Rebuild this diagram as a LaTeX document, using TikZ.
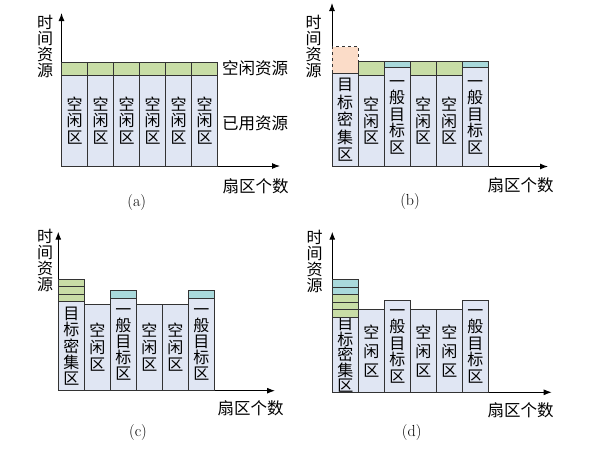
\documentclass[tikz,border=0pt]{standalone}
\usepackage{fontspec}
\setmainfont{Latin Modern Roman}
\newfontfamily\cjk{Noto Sans CJK SC}
\usetikzlibrary{arrows.meta}
\definecolor{linec}{HTML}{333333}
\definecolor{bodyc}{HTML}{E0E6F3}
\definecolor{greenc}{HTML}{C8DDA6}
\definecolor{cyanc}{HTML}{A9D9DB}
\definecolor{peachc}{HTML}{FBDCC8}
\tikzset{
  bar/.style={draw=linec, fill=bodyc, line width=0.9pt, minimum width=26pt,
    inner sep=0pt, outer sep=0pt, anchor=south west, align=center},
  bartext/.style={font=\cjk\fontsize{16}{#1}\selectfont},
  freeband/.style={draw=linec, fill=greenc, line width=0.9pt, minimum width=26pt,
    minimum height=#1, inner sep=0pt, outer sep=0pt, anchor=south west},
  tgtband/.style={draw=linec, fill=cyanc, line width=0.9pt, minimum width=26pt,
    minimum height=#1, inner sep=0pt, outer sep=0pt, anchor=south west},
  reqbox/.style={draw=linec, fill=peachc, dashed, line width=0.8pt, minimum width=26pt,
    minimum height=#1, inner sep=0pt, outer sep=0pt, anchor=south west},
  axisline/.style={line width=1pt, -{Latex[length=8pt,width=6pt]}},
  lab/.style={font=\cjk\fontsize{16.5}{16.5}\selectfont, inner sep=0pt},
  vlab/.style={font=\cjk\fontsize{16}{16}\selectfont, inner sep=0pt, align=center},
  caplab/.style={font=\rmfamily\fontsize{16}{16}\selectfont, inner sep=0pt}
}
\begin{document}
\begin{tikzpicture}[x=1pt,y=-1pt]
\useasboundingbox[fill=white] (0,0) rectangle (600,450);

% ---------------- panel (a) ----------------
\coordinate (oa) at (61.5,166);
\coordinate (atip) at (61.5,13);
\coordinate (aend) at (280,166);
\draw[axisline] (oa) -- (atip);
\draw[axisline] (oa) -- (aend);
\foreach \i in {0,...,5}{
  \node[bar, minimum height=91pt, bartext=16.5] (a\i) at (61.5+26*\i,166) {空\\闲\\区};
  \node[freeband=13pt] (ag\i) at (a\i.north west) {};
}
\node[vlab] (aylab) at (45,46.5) {时\\间\\资\\源};
\node[lab] (afree) at (255,68) {空闲资源};
\node[lab] (aused) at (255,123) {已用资源};
\node[lab] (axlab) at (255.5,186.5) {扇区个数};
\node[caplab] (acap) at (136.7,203) {(a)};

% ---------------- panel (b) ----------------
\coordinate (ob) at (332,166.5);
\coordinate (btip) at (332,3);
\coordinate (bend) at (548,166.5);
\draw[axisline] (ob) -- (btip);
\draw[axisline] (ob) -- (bend);
\node[bar, minimum height=93.5pt, bartext=17.5] (b0) at (332,166.5) {目\\标\\密\\集\\区};
\node[reqbox=26.5pt] (br0) at (b0.north west) {};
\foreach \i in {1,3,4}{
  \node[bar, minimum height=91.5pt, bartext=16.5] (b\i) at (332+26*\i,166.5) {空\\闲\\区};
  \node[freeband=14pt] (bg\i) at (b\i.north west) {};
}
\foreach \i in {2,5}{
  \node[bar, minimum height=99pt, bartext=16.5] (b\i) at (332+26*\i,166.5) {一\\般\\目\\标\\区};
  \node[tgtband=6.5pt] (bt\i) at (b\i.north west) {};
}
\node[vlab] (bylab) at (313.5,46.5) {时\\间\\资\\源};
\node[lab] (bxlab) at (520.5,185) {扇区个数};
\node[caplab] (bcap) at (410,202) {(b)};

% ---------------- panel (c) ----------------
\coordinate (oc) at (58.3,390.7);
\coordinate (ctip) at (58.3,231.7);
\coordinate (cend) at (275,390.7);
\draw[axisline] (oc) -- (ctip);
\draw[axisline] (oc) -- (cend);
\node[bar, minimum height=89pt, bartext=16.2] (c0) at (58.3,390.7) {目\\标\\密\\集\\区};
\node[freeband=7.47pt] (cg1) at (c0.north west) {};
\node[freeband=7.47pt] (cg2) at (cg1.north west) {};
\node[freeband=7.47pt] (cg3) at (cg2.north west) {};
\foreach \i in {1,3,4}{
  \node[bar, minimum height=86.4pt, bartext=17] (c\i) at (58.3+26*\i,390.7) {空\\闲\\区};
}
\foreach \i in {2,5}{
  \node[bar, minimum height=92.4pt, bartext=16] (c\i) at (58.3+26*\i,390.7) {一\\般\\目\\标\\区};
  \node[tgtband=7.6pt] (ct\i) at (c\i.north west) {};
}
\node[vlab] (cylab) at (45,260) {时\\间\\资\\源};
\node[lab] (cxlab) at (250.5,408) {扇区个数};
\node[caplab] (ccap) at (138,433) {(c)};

% ---------------- panel (d) ----------------
\coordinate (od) at (332.3,392.3);
\coordinate (dtip) at (332.3,231.7);
\coordinate (dend) at (551.7,392.3);
\draw[axisline] (od) -- (dtip);
\draw[axisline] (od) -- (dend);
\node[bar, minimum height=71.6pt, bartext=13.8] (d0) at (332.3,392.3) {目\\标\\密\\集\\区};
\node[freeband=7.5pt] (dg1) at (d0.north west) {};
\node[freeband=7.5pt] (dg2) at (dg1.north west) {};
\node[freeband=7.5pt] (dg3) at (dg2.north west) {};
\node[tgtband=7.5pt] (dt1) at (dg3.north west) {};
\node[tgtband=7.5pt] (dt2) at (dt1.north west) {};
\foreach \i in {1,3,4}{
  \node[bar, minimum height=82.6pt, bartext=19] (d\i) at (332.3+26*\i,392.3) {空\\闲\\区};
}
\foreach \i in {2,5}{
  \node[bar, minimum height=92pt, bartext=16.5] (d\i) at (332.3+26*\i,392.3) {一\\般\\目\\标\\区};
}
\node[vlab] (dylab) at (314.5,261) {时\\间\\资\\源};
\node[lab] (dxlab) at (520.5,410) {扇区个数};
\node[caplab] (dcap) at (411.7,433) {(d)};
\end{tikzpicture}
\end{document}
